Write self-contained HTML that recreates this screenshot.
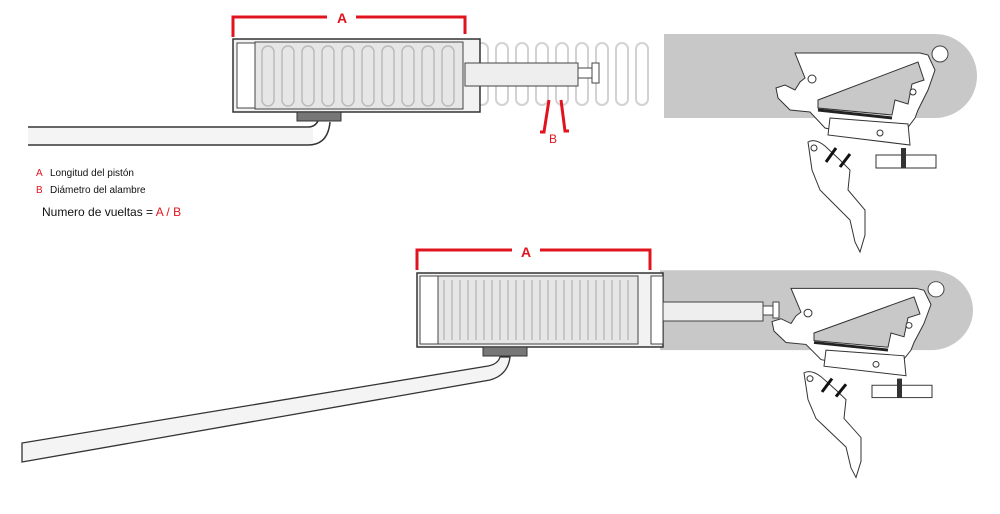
<!DOCTYPE html>
<html><head><meta charset="utf-8"><style>
html,body{margin:0;padding:0;background:#fff;width:1000px;height:514px;overflow:hidden}
svg{display:block}
text{font-family:"Liberation Sans",sans-serif}
</style></head><body>
<svg width="1000" height="514" viewBox="0 0 1000 514" xmlns="http://www.w3.org/2000/svg">
<defs>
<g id="trig">
  <path d="M664 34 H935 A42 42 0 0 1 935 118 H664 Z" fill="#c8c8c8"/>
  <circle cx="940" cy="54" r="8" fill="#fff" stroke="#444" stroke-width="1"/>
  <path d="M795 53 H920 L928 55 L935 70 L928 90 L918 110 L915 118 L900 138 L880 140 L825 128 L810 112 L790 110 L778 98 L776 88 L785 85 L795 90 L800 82 L805 78 Z" fill="#fff" stroke="#333" stroke-width="1"/>
  <path d="M818 100 L918 62 L924 80 L912 84 L908 104 L895 100 L892 115 L818 108 Z" fill="#c8c8c8" stroke="#333" stroke-width="1"/>
  <line x1="818" y1="110" x2="892" y2="118" stroke="#222" stroke-width="3"/>
  <circle cx="812" cy="79" r="4" fill="#fff" stroke="#333"/>
  <circle cx="913" cy="92" r="3" fill="#fff" stroke="#333"/>
  <path d="M830 118 L908 124 L910 145 L828 135 Z" fill="#fff" stroke="#333"/>
  <circle cx="880" cy="133" r="3" fill="#fff" stroke="#333"/>
  <path d="M808 142 Q815 138 825 146 L840 160 L850 170 L848 190 L865 210 L865 235 L860 252 L855 242 L850 220 L830 200 L820 190 L812 170 Z" fill="#fff" stroke="#333"/>
  <circle cx="814" cy="148" r="3" fill="#fff" stroke="#333"/>
  <line x1="826" y1="162" x2="836" y2="148" stroke="#111" stroke-width="3"/>
  <line x1="840" y1="167" x2="850" y2="154" stroke="#111" stroke-width="3"/>
  <rect x="876" y="155" width="60" height="13" fill="#fff" stroke="#333"/>
  <rect x="901" y="148" width="5" height="20" fill="#333"/>
</g>
</defs>

<!-- ===== TOP ===== -->
<g fill="none" stroke="#d2d2d2" stroke-width="2">
  <rect x="476" y="43" width="12" height="62" rx="6"/>
  <rect x="496" y="43" width="12" height="62" rx="6"/>
  <rect x="516" y="43" width="12" height="62" rx="6"/>
  <rect x="536" y="43" width="12" height="62" rx="6"/>
  <rect x="556" y="43" width="12" height="62" rx="6"/>
  <rect x="576" y="43" width="12" height="62" rx="6"/>
  <rect x="596" y="43" width="12" height="62" rx="6"/>
  <rect x="616" y="43" width="12" height="62" rx="6"/>
  <rect x="636" y="43" width="12" height="62" rx="6"/>
</g>
<use href="#trig"/>
<rect x="233" y="39" width="247" height="73" fill="#f2f2f2" stroke="#333" stroke-width="1.5"/>
<rect x="237" y="43" width="18" height="65" fill="#fff" stroke="#444"/>
<rect x="255" y="42" width="208" height="67" fill="#e6e6e6" stroke="#444"/>
<g stroke="#bbb" stroke-width="1.5" fill="none">
<rect x="262" y="46" width="12" height="60" rx="6"/><rect x="282" y="46" width="12" height="60" rx="6"/><rect x="302" y="46" width="12" height="60" rx="6"/><rect x="322" y="46" width="12" height="60" rx="6"/><rect x="342" y="46" width="12" height="60" rx="6"/><rect x="362" y="46" width="12" height="60" rx="6"/><rect x="382" y="46" width="12" height="60" rx="6"/><rect x="402" y="46" width="12" height="60" rx="6"/><rect x="422" y="46" width="12" height="60" rx="6"/><rect x="442" y="46" width="12" height="60" rx="6"/>
</g>
<rect x="465" y="63" width="113" height="23" fill="#eee" stroke="#444"/>
<rect x="578" y="68" width="14" height="10" fill="#fff" stroke="#444"/>
<rect x="592" y="63" width="7" height="20" fill="#fff" stroke="#444"/>
<rect x="297" y="112" width="44" height="9" fill="#777" stroke="#333"/>
<rect x="28" y="128" width="285" height="16" fill="#f4f4f4"/>
<path d="M28 127 H308 Q315 127 318 121" fill="none" stroke="#333" stroke-width="1.5"/>
<path d="M28 145 H308 Q328 145 330 122" fill="none" stroke="#333" stroke-width="1.5"/>
<path d="M233 37 V17 H327 M356 17 H465 V34" fill="none" stroke="#e0141e" stroke-width="3"/>
<text x="342" y="23" fill="#e0141e" font-size="14" font-weight="bold" text-anchor="middle">A</text>
<path d="M549 100 L544 132 H540 M561 100 L565 131 H569" fill="none" stroke="#e0141e" stroke-width="3"/>
<text x="553" y="143" fill="#e0141e" font-size="12" text-anchor="middle">B</text>
<text x="36" y="176" fill="#e0141e" font-size="10">A</text>
<text x="50" y="176" fill="#111" font-size="10">Longitud  del  pistón</text>
<text x="36" y="193" fill="#e0141e" font-size="10">B</text>
<text x="50" y="193" fill="#111" font-size="10">Diámetro del alambre</text>
<text x="42" y="216" fill="#111" font-size="12">Numero de vueltas = <tspan fill="#e0141e">A / B</tspan></text>

<!-- ===== BOTTOM ===== -->
<g transform="translate(-4,238) scale(1,0.95)">
<use href="#trig"/>
</g>
<rect x="663" y="273" width="30" height="74" fill="#c8c8c8"/>
<rect x="417" y="273" width="246" height="74" fill="#f2f2f2" stroke="#333" stroke-width="1.5"/>
<rect x="420" y="276" width="18" height="68" fill="#fff" stroke="#444"/>
<rect x="438" y="276" width="200" height="68" fill="#e6e6e6" stroke="#444"/>
<g stroke="#bbb" stroke-width="1.5" fill="none">
<path d="M444 280v60M452 280v60M460 280v60M468 280v60M476 280v60M484 280v60M492 280v60M500 280v60M508 280v60M516 280v60M524 280v60M532 280v60M540 280v60M548 280v60M556 280v60M564 280v60M572 280v60M580 280v60M588 280v60M596 280v60M604 280v60M612 280v60M620 280v60M628 280v60"/>
</g>
<rect x="651" y="276" width="12" height="68" fill="#fff" stroke="#444"/>
<rect x="663" y="302" width="100" height="19" fill="#eee" stroke="#444"/>
<rect x="763" y="306" width="10" height="9" fill="#fff" stroke="#444"/>
<rect x="773" y="302" width="6" height="16" fill="#fff" stroke="#444"/>
<rect x="483" y="347" width="44" height="9" fill="#777" stroke="#333"/>
<path d="M22 443 L22 462 L490 380 Q508 375 510 357 L500 357 Q498 364 488 366 L22 443 Z" fill="#f4f4f4" stroke="#333" stroke-width="1.3"/>
<path d="M417 270 V250 H512 M540 250 H650 V270" fill="none" stroke="#e0141e" stroke-width="3"/>
<text x="526" y="257" fill="#e0141e" font-size="14" font-weight="bold" text-anchor="middle">A</text>
</svg>
</body></html>
